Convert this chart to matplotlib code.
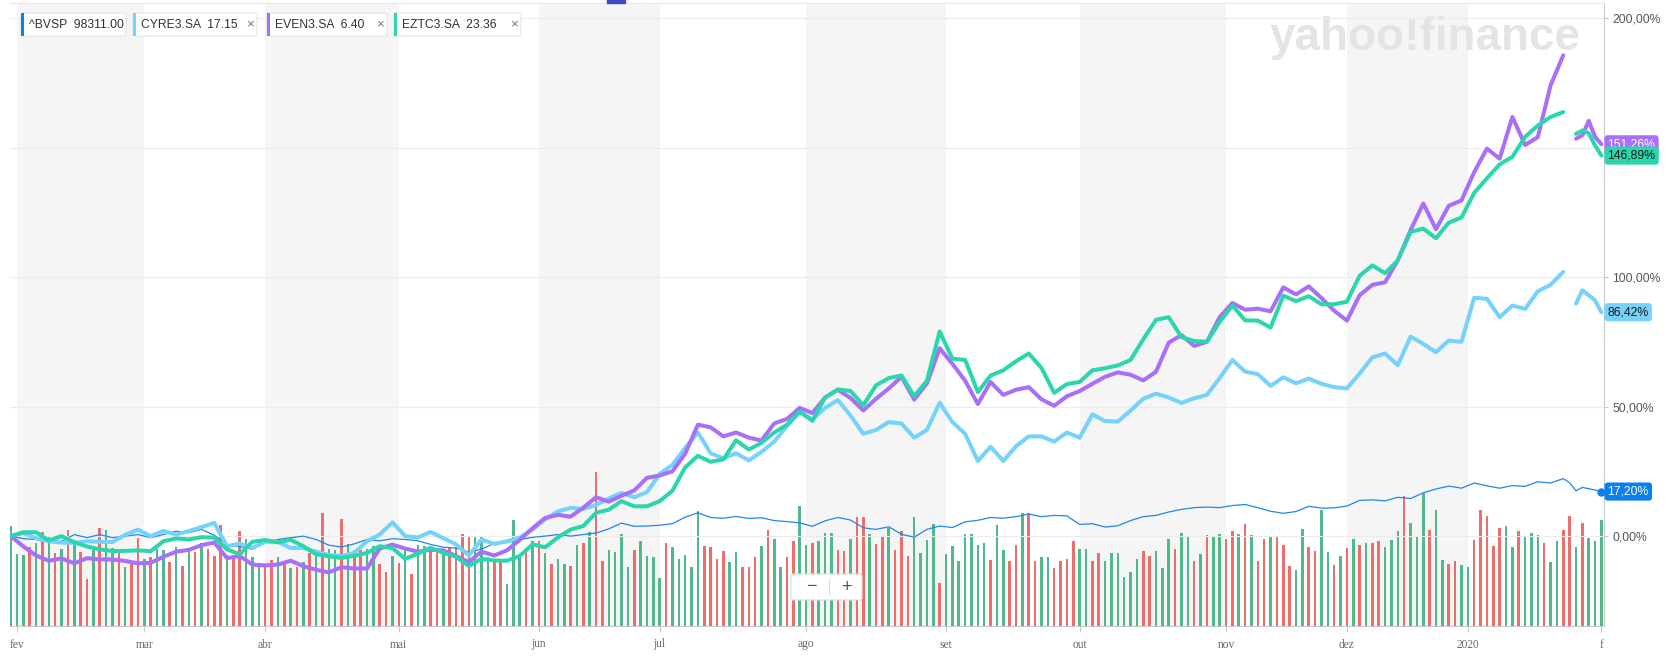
import matplotlib
matplotlib.use('Agg')
import matplotlib.pyplot as plt
import numpy as np
from matplotlib.patches import Rectangle, FancyBboxPatch
from matplotlib.transforms import blended_transform_factory

plt.rcParams['font.family'] = ['Liberation Sans', 'DejaVu Sans']

# --- eixo de tempo: pregões desde 31/jan/2019 ---
month_labels = ['fev', 'mar', 'abr', 'mai', 'jun', 'jul', 'ago', 'set', 'out', 'nov', 'dez', '2020', 'f']
month_start = [1, 21, 40, 61, 83, 102, 125, 147, 168, 191, 210, 229, 250]
shaded_months = [(1, 21), (40, 61), (83, 102), (125, 147), (168, 191), (210, 229)]

# pontos lidos a cada 2 pregões, depois diário no fim (falha em 245)
day = np.r_[np.arange(0, 245, 2), np.arange(245, 251)]

# variação % acumulada
even3 = [0, -4, -7.5, -9.5, -8.6, -10.5, -8.5, -9, -9, -9.6,
         -10.5, -10.3, -8, -6, -5.3, -3.5, -2.5, -8.5, -7.7, -11,
         -11.3, -11, -9.5, -11.6, -13, -14, -12, -12.5, -12.5, -4.8,
         -3.3, -4.8, -6, -5.3, -5.5, -7.7, -10, -6, -7.5, -5.5,
         -1.5, 3, 7, 8.2, 7.5, 11, 15, 13.3, 15.6, 17.6,
         22.5, 23.4, 25, 31.8, 43, 42, 38.5, 40, 38, 36.9,
         43.5, 45.2, 49.5, 47.5, 53.5, 56.5, 53.3, 48.5, 53, 57,
         61.5, 52.7, 59, 72.5, 66.5, 60, 51, 59.5, 54.5, 56.5,
         57.5, 52.8, 50.3, 54, 56, 58.8, 61.5, 63.2, 62.3, 60.1,
         63.5, 74.7, 77.6, 73.4, 75, 84.5, 90, 87.4, 87.8, 86.8,
         96, 93.3, 96.4, 91.9, 87, 83.2, 93, 97, 98, 106.5,
         118.1, 128.4, 118.5, 127.5, 129.6, 140.5, 149.6, 145.7, 161.8, 151,
         154, 174, 185.6,
         np.nan, 153.4, 154.7, 160.3, 154.1, 151.26]

eztc3 = [0, 1.5, 1.5, -1.7, 0, -2.4, -4, -5.1, -5.8, -5.7,
         -5.5, -5.8, -2, -0.9, -1.3, -0.4, -0.6, -5.1, -7, -2.2,
         -1.5, -2.4, -1.4, -3.9, -7, -7.8, -8.4, -7.6, -6.5, -3.9,
         -4.6, -8.8, -6.8, -4.5, -6.5, -8, -11.5, -8.8, -9.4, -9.5,
         -7.7, -3.2, -4.3, -0.5, 2.5, 3.9, 9, 10.2, 13.5, 11.5,
         11.5, 13.5, 17.5, 26.5, 31, 28.7, 29.6, 37, 33.4, 36,
         40, 43, 48, 44.5, 53.5, 56.6, 56, 50.5, 58.2, 61,
         62, 54, 60, 79, 68.5, 68, 55.6, 62, 64, 67.5,
         70.5, 64.9, 55.3, 58.7, 59.5, 64, 64.8, 65.9, 68, 76,
         83.5, 84.5, 76.8, 75.3, 75, 82.7, 89, 83.3, 83.2, 80.5,
         92.8, 90.7, 92.6, 89.5, 89.5, 90.5, 100.5, 104.5, 101.5, 106.5,
         117.4, 118.7, 115, 121, 123, 132.5, 138.1, 143.5, 146.4, 154.1,
         158.5, 161.8, 163.7,
         np.nan, 155.3, 156.6, 155.5, 150.8, 146.89]

cyre3 = [0, 1.2, -0.8, -2, -2.5, -2.6, -2, -2.2, -2.3, 0.5,
         2.5, 0, 2, 0.6, 1.9, 3.5, 5.1, -3.9, -2.9, -4.5,
         -2.2, -2.2, -4.6, -4.6, -6, -7.3, -7.7, -6.5, -2, 0.6,
         5.3, 0, -0.5, 1.6, -0.8, -3.2, -7.5, -1.3, -3, -2,
         -0.6, 2.5, 6.5, 9.5, 10.9, 10.5, 12, 14.5, 16.7, 15,
         17, 24, 27.5, 34, 40, 32, 30, 32, 29.2, 32.5,
         36.5, 42.5, 48, 45, 49.5, 52.5, 46.5, 39.5, 41, 44,
         43.5, 38, 41, 51.5, 44, 39.5, 29, 34.5, 29, 34.7,
         38.5, 38.5, 36.5, 40, 38, 47, 44.4, 44.2, 48.5, 53,
         55, 53.5, 51.4, 53.2, 54.5, 61, 68, 63.5, 62.5, 58,
         61.3, 59, 60.8, 58.8, 57.5, 57, 62.8, 69, 70.5, 66,
         77, 74.2, 71, 75.5, 75, 92, 91.6, 84.5, 89, 87.7,
         94.5, 97, 102,
         np.nan, 89.8, 94.9, 93, 91, 86.42]

bvsp = [0, -1, -1.3, -2.2, -2, 0.6, -0.6, 0.6, -0.6, 0,
        0.6, -0.6, 0.6, 1.9, 1.3, 2.6, 0.3, -3.2, -4, -5.1,
        -2.4, -1.3, -0.6, 0, -1.3, -3.5, -4.2, -3, -1.3, -1.8,
        -1, -1.3, -1.8, -3.2, -4.3, -4.6, -6.2, -5, -2.8, -2.5,
        -1.3, -0.5, 0, 0.6, 0, 0.6, 1.2, 2.8, 5, 3.8,
        3.9, 4.2, 4.8, 7.3, 9, 7.2, 6.9, 7.6, 6.8, 7.1,
        6, 5.6, 5.1, 3.8, 5.9, 7.2, 6.2, 3.2, 2.6, 3.6,
        0.7, -0.4, 2.6, 3.9, 3.3, 5.5, 6.1, 7.2, 6.9, 7.5,
        8.5, 7.5, 8, 7.8, 4.5, 4.8, 3.5, 4, 6, 7.5,
        8, 9.3, 10.3, 11, 11.2, 11, 11.8, 12.2, 11, 9.6,
        8.8, 9.5, 11.5, 10.8, 10.9, 11.6, 13.8, 14, 13.6, 15,
        14.5, 16.7, 18.2, 19.3, 18.5, 20.5, 19.4, 18.5, 19.5, 19.2,
        21, 20.5, 22.2,
        20.6, 17.5, 18.8, 18.3, 17.8, 17.2]

# volume diário do ^BVSP (unidades relativas) e direção do dia
volume = [93, 67, 66, 74, 78, 88, 83, 68, 72, 90, 80, 69, 44, 74, 92, 90, 73, 72, 55, 58,
          82, 63, 64, 72, 71, 60, 74, 56, 72, 69, 78, 72, 65, 94, 66, 66, 89, 81, 64, 58,
          58, 62, 64, 61, 54, 55, 60, 68, 66, 106, 72, 71, 100, 77, 71, 71, 72, 75, 58, 50,
          65, 59, 71, 49, 76, 75, 71, 71, 69, 74, 74, 86, 83, 84, 84, 64, 62, 63, 39, 99,
          65, 69, 79, 79, 68, 58, 63, 58, 56, 76, 78, 88, 144,
          61, 71, 69, 86, 55, 71, 79, 65, 64, 45, 78, 74, 63, 66, 55, 107, 75, 74, 63, 70,
          60, 69, 55, 55, 64, 75, 90, 81, 55, 64, 79, 112, 76, 78, 79, 87, 87, 71, 70, 81,
          102, 102, 86, 77, 83, 92, 71, 89, 65, 102, 68, 80, 95, 40,
          67, 75, 61, 86, 86, 76, 78, 62, 94, 71, 61, 76, 106, 106, 61, 64, 64, 54, 61, 63,
          79, 72, 72, 61, 68, 61, 68, 68, 46, 50, 63, 70, 65, 70, 54, 81, 72, 87, 84, 61,
          67, 85, 84, 86, 81, 89, 86, 95, 85, 61, 81, 83, 84, 76, 56, 52, 91, 74, 70, 108,
          69, 57, 65, 73, 81, 76, 78, 78, 79, 74, 80, 89, 121, 96, 84, 124, 90, 108, 62, 58,
          61, 57, 55, 80, 108, 103, 75, 92, 93, 74, 89, 84, 87, 85, 78, 60, 79, 90, 103, 74,
          96, 82, 79, 99]
vol_dir = ("gggrgrgrgr" "grrgrggrgr" "rgrggrgrgr" "grrrgrrggg" "rrgrgrg" "rgrg"
           "grgrrggrrg" "rgrggrrgrr" "rrgggrrggg" "rgrgrggrgr" "gr"
           "rggggrgggg" "rgggggrrrr" "ggrrrgrggr" "rggrgggrrg" "rrgrrgrrrg" "gggr"
           "gggggggrgg" "rrgrrggrrr" "rggrrggggg" "grrgggrggr" "grggrrgrgr"
           "rgrrrggrrg" "grgrgrgrrg" "ggrgggrggr" "rg" "grrrrrggrg" "ggrggrrgrg")

tags = [('^BVSP', '98311.00', '#0a7ff0', False),
        ('CYRE3.SA', '17.15', '#74d2fb', True),
        ('EVEN3.SA', '6.40', '#a96ff8', True),
        ('EZTC3.SA', '23.36', '#2bd6ad', True)]

green, red = '#4fb98c', '#ee6c6a'

W, H = 1677, 667
fig = plt.figure(figsize=(W / 100, H / 100), dpi=100)
L, R, T, B = 10, 1604, 3, 626
rect = [L / W, 1 - B / H, (R - L) / W, (B - T) / H]

# fundo: faixas dos meses + volume
axv = fig.add_axes(rect)
for a, b in shaded_months:
    axv.axvspan(a, b, color='#f5f5f5', lw=0, zorder=0)
xv = np.arange(len(volume))
cols = [green if c == 'g' else red for c in vol_dir[:len(volume)]]
axv.bar(xv, volume, width=0.4, color=cols, zorder=2)
axv.set_ylim(0, 582)
axv.set_xlim(-0.1, 250.4)
axv.axis('off')
axv.text(1270 / W, 1 - 38 / H, 'yahoo!finance', transform=fig.transFigure, fontsize=33,
         fontweight='bold', color='#e4e4e4', ha='left', va='center', clip_on=False, zorder=1)

# linhas
ax = fig.add_axes(rect)
ax.patch.set_visible(False)
ax.set_xlim(-0.1, 250.4)
ax.set_ylim(-34.7, 205.8)
lk = dict(solid_joinstyle='round', solid_capstyle='round')
ax.plot(day, bvsp, color='#1f86ea', lw=0.9, zorder=3, **lk)
ax.plot(day, cyre3, color='#74d2fb', lw=2.9, zorder=4, **lk)
ax.plot(day, even3, color='#a96ff8', lw=2.9, zorder=5, **lk)
ax.plot(day, eztc3, color='#2bd6ad', lw=2.9, zorder=6, **lk)
ax.plot(day[-1], bvsp[-1], 'o', color='#0a7ff0', ms=5, zorder=7, clip_on=False)

ax.set_yticks([0, 50, 100, 150, 200])
ax.set_yticklabels(['0,00%', '50,00%', '100,00%', '', '200,00%'])
ax.yaxis.tick_right()
ax.yaxis.grid(True, color='#ececec', lw=0.8)
ax.set_axisbelow(True)
ax.tick_params(axis='y', length=3, color='#c9c9c9', pad=3, labelsize=8.8, labelcolor='#555555')
ax.set_xticks(month_start)
ax.set_xticklabels(month_labels)
ax.tick_params(axis='x', length=4, color='#c9c9c9', pad=5, labelsize=8.3, labelcolor='#666666')
for lbl in ax.get_xticklabels():
    lbl.set_family('Liberation Serif')
ax.spines['left'].set_visible(False)
ax.spines['top'].set_color('#e8e8e8')
ax.spines['right'].set_color('#c9c9c9')
ax.spines['bottom'].set_color('#c9c9c9')

# rótulos do último valor
trans = blended_transform_factory(ax.transAxes, ax.transData)
last = [(even3[-1], '#a96ff8', 'white'), (eztc3[-1], '#2bd6ad', '#1a1a1a'),
        (cyre3[-1], '#74d2fb', '#1a1a1a'), (bvsp[-1], '#0a7ff0', 'white')]
for z, (v, fc, tc) in enumerate(last):
    ax.annotate(f'{v:.2f}%'.replace('.', ','), xy=(1, v), xycoords=trans,
                xytext=(2.6, 0), textcoords='offset points', ha='left', va='center',
                fontsize=8.8, color=tc, zorder=10 + z, annotation_clip=False,
                bbox=dict(boxstyle='round,pad=0.25,rounding_size=0.25', fc=fc, ec='none'))

# sobreposição em pixels: legenda, controle de zoom
ov = fig.add_axes([0, 0, 1, 1])
ov.set_xlim(0, W)
ov.set_ylim(H, 0)
ov.axis('off')
ov.add_patch(Rectangle((607, 0), 18, 3, color='#3b4cc0'))
chips = [(21, 126), (133, 257), (267, 387), (394, 521)]
for (x0, x1), (name, price, col, close) in zip(chips, tags):
    ov.add_patch(FancyBboxPatch((x0, 13), x1 - x0, 23, boxstyle='round,pad=0,rounding_size=2',
                                fc='white', ec='#e4e4e4', lw=0.8))
    ov.add_patch(Rectangle((x0, 13), 3.2, 23, color=col, lw=0))
    ov.text(x0 + 8, 24.5, f'{name}  {price}', fontsize=8.7, color='#333333', va='center', ha='left')
    if close:
        ov.text(x1 - 7, 24.5, '×', fontsize=9.5, color='#777777', va='center', ha='center')

ov.add_patch(FancyBboxPatch((791, 574), 71, 26, boxstyle='round,pad=0,rounding_size=2',
                            fc='white', ec='#dddddd', lw=0.8))
ov.plot([829, 829], [579, 595], color='#dddddd', lw=0.8)
ov.text(811, 587, '−', fontsize=13, color='#555555', ha='center', va='center')
ov.text(846, 587, '+', fontsize=13, color='#555555', ha='center', va='center')

fig.savefig('out.png', dpi=100, facecolor='white')
